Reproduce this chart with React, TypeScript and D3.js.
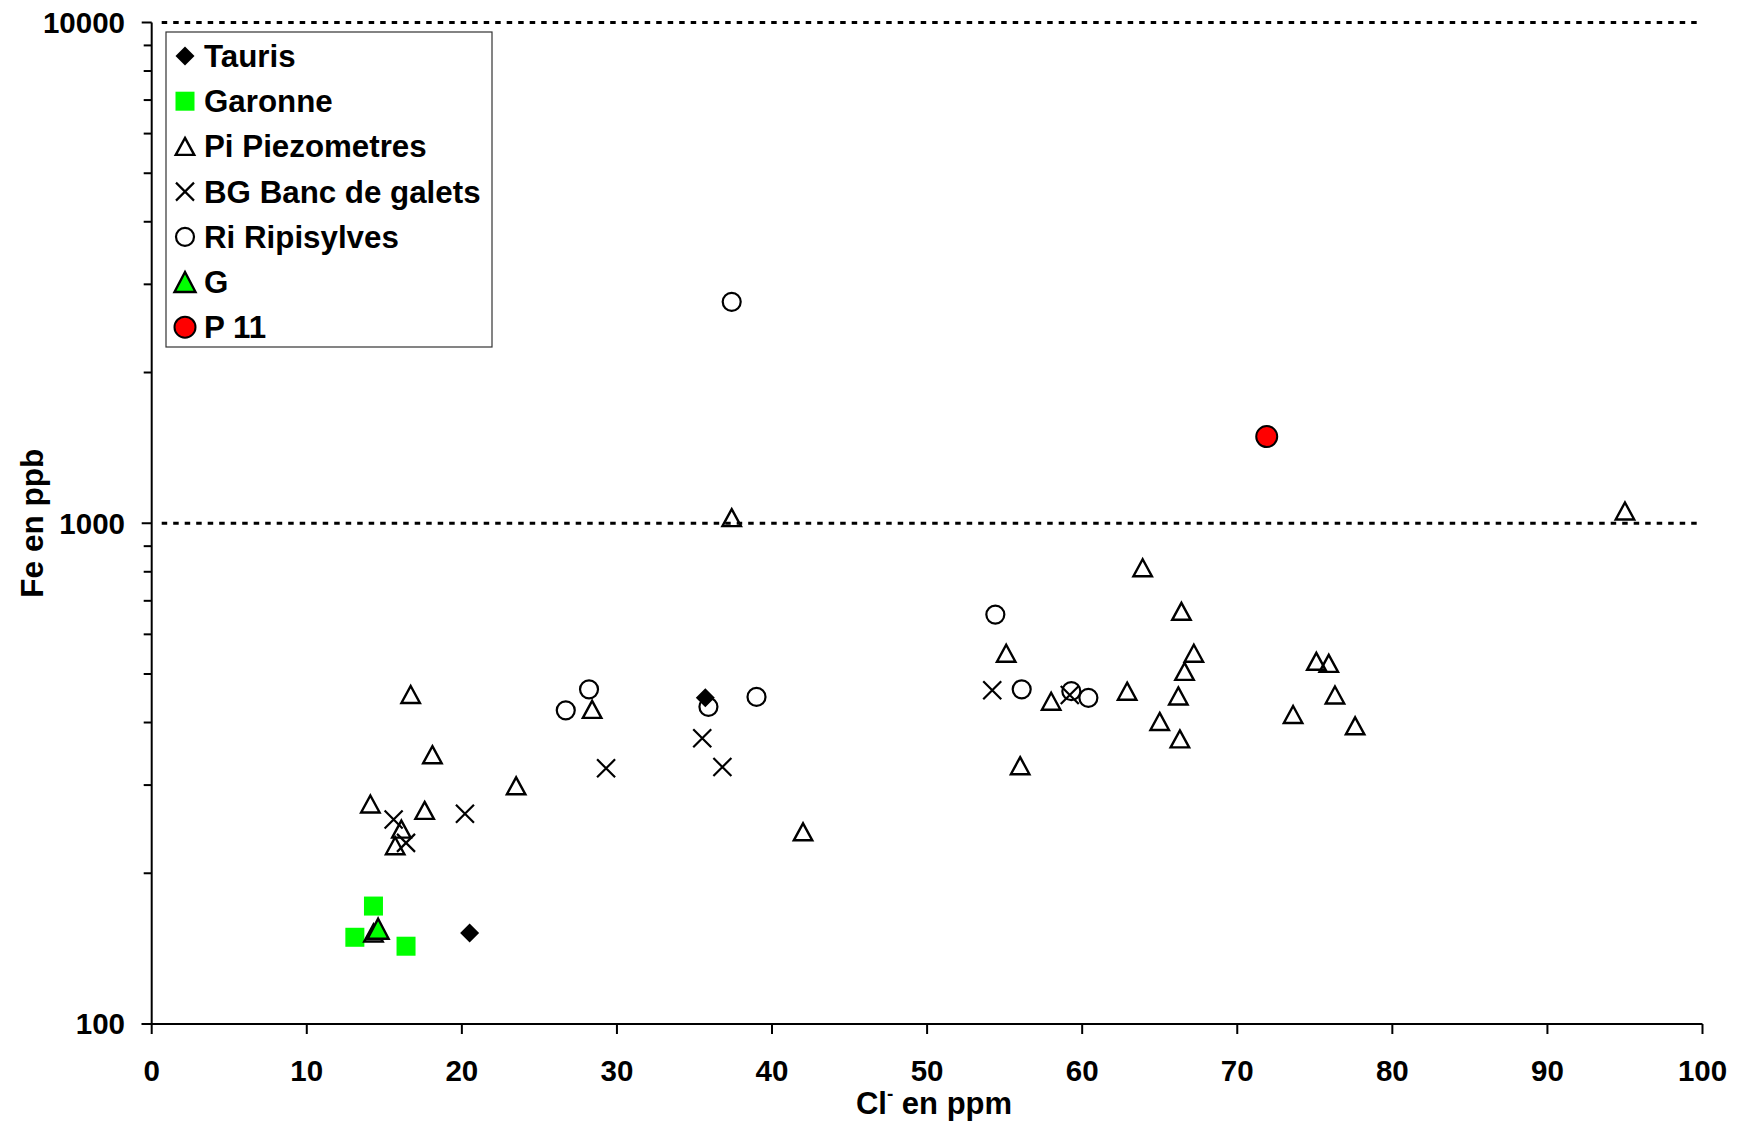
import React from "react";
import * as d3 from "d3";

// ---- Data (Cl- ppm, Fe ppb) ----
const taurisX = [35.7, 20.5];
const taurisY = [448, 152];

const garonneX = [14.3, 13.1, 16.4];
const garonneY = [172, 149, 143];

const piX = [37.4, 95.0, 63.9, 66.4, 55.1, 67.2, 66.6, 75.1, 75.9, 62.9, 66.2, 76.3, 58.0, 65.0, 73.6, 77.6, 66.3, 56.0, 28.4, 16.7, 18.1, 23.5, 14.1, 17.6, 42.0, 16.1, 15.7, 14.3];
const piY = [1026, 1058, 815, 667, 550, 550, 506, 530, 525, 462, 452, 454, 441, 402, 415, 394, 371, 328, 425, 455, 345, 299, 275, 267, 242, 245, 227, 152];

const bgX = [54.2, 59.2, 35.5, 29.3, 36.8, 20.2, 15.6, 16.4];
const bgY = [464, 454, 372, 324, 326, 263, 256, 230];

const riX = [37.4, 54.4, 56.1, 59.3, 60.4, 28.2, 26.7, 35.9, 39.0];
const riY = [2768, 657, 466, 462, 448, 466, 423, 430, 450];

const gX = [14.6];
const gY = [155];

const p11X = [71.9];
const p11Y = [1490];

const xTicks = [0, 10, 20, 30, 40, 50, 60, 70, 80, 90, 100];
const yMajor = [100, 1000, 10000];
const yMinor = [200, 300, 400, 500, 600, 700, 800, 900, 2000, 3000, 4000, 5000, 6000, 7000, 8000, 9000];
const refLines = [1000, 10000];

const legendLabels = ["Tauris", "Garonne", "Pi Piezometres", "BG Banc de galets", "Ri Ripisylves", "G", "P 11"];
const legendKinds = ["diamond", "square", "tri", "x", "circle", "gtri", "red"];

const FONT = "'Liberation Sans', Arial, Helvetica, sans-serif";

const x = d3.scaleLinear().domain([0, 100]).range([151.7, 1702.5]);
const y = d3.scaleLog().domain([100, 10000]).range([1024, 22.5]);

function Marker({ kind, cx, cy }: { kind: string; cx: number; cy: number }) {
  switch (kind) {
    case "diamond": {
      const r = 9.5;
      return <path d={`M${cx},${cy - r}L${cx + r},${cy}L${cx},${cy + r}L${cx - r},${cy}Z`} fill="#000" />;
    }
    case "square": {
      const s = 19;
      return <rect x={cx - s / 2} y={cy - s / 2} width={s} height={s} fill="#00ff00" />;
    }
    case "tri": {
      const w = 18.5, h = 17;
      return (
        <path
          d={`M${cx},${cy - h / 2}L${cx + w / 2},${cy + h / 2}L${cx - w / 2},${cy + h / 2}Z`}
          fill="none"
          stroke="#000"
          strokeWidth={2.4}
          strokeLinejoin="miter"
        />
      );
    }
    case "gtri": {
      const w = 21, h = 20;
      return (
        <path
          d={`M${cx},${cy - h / 2}L${cx + w / 2},${cy + h / 2}L${cx - w / 2},${cy + h / 2}Z`}
          fill="#00ff00"
          stroke="#000"
          strokeWidth={2.4}
        />
      );
    }
    case "x": {
      const r = 9;
      return (
        <path
          d={`M${cx - r},${cy - r}L${cx + r},${cy + r}M${cx - r},${cy + r}L${cx + r},${cy - r}`}
          stroke="#000"
          strokeWidth={2.2}
          fill="none"
        />
      );
    }
    case "circle":
      return <circle cx={cx} cy={cy} r={9} fill="none" stroke="#000" strokeWidth={2.2} />;
    case "red":
      return <circle cx={cx} cy={cy} r={10.5} fill="#ff0000" stroke="#000" strokeWidth={2} />;
    default:
      return null;
  }
}

const series = [
  { kind: "diamond", xs: taurisX, ys: taurisY },
  { kind: "square", xs: garonneX, ys: garonneY },
  { kind: "tri", xs: piX, ys: piY },
  { kind: "x", xs: bgX, ys: bgY },
  { kind: "circle", xs: riX, ys: riY },
  { kind: "gtri", xs: gX, ys: gY },
  { kind: "red", xs: p11X, ys: p11Y },
];

export default function App() {
  const x0 = x(0);
  const x1 = x(100);
  const yb = y(100);
  const yt = y(10000);
  return (
    <svg
      width={1745}
      height={1123}
      style={{ position: "absolute", left: 0, top: 0, background: "#fff" }}
      fontFamily={FONT}
    >
      <rect x={0} y={0} width={1745} height={1123} fill="#fff" />
      {/* reference dotted lines */}
      {refLines.map((v) => (
        <line
          key={v}
          x1={x0 + 10}
          x2={x1}
          y1={y(v)}
          y2={y(v)}
          stroke="#000"
          strokeWidth={2.8}
          strokeDasharray="5.5 6"
        />
      ))}
      {/* axes */}
      <line x1={x0} x2={x0} y1={yt} y2={yb} stroke="#000" strokeWidth={2} />
      <line x1={x0 - 10} x2={x1} y1={yb} y2={yb} stroke="#000" strokeWidth={2.2} />
      {yMajor.map((v) => (
        <g key={v}>
          <line x1={x0 - 10} x2={x0} y1={y(v)} y2={y(v)} stroke="#000" strokeWidth={2} />
          <text x={125} y={y(v) + 10.4} textAnchor="end" fontSize={29.5} fontWeight="bold">
            {v}
          </text>
        </g>
      ))}
      {yMinor.map((v) => (
        <line key={v} x1={x0 - 8} x2={x0} y1={y(v)} y2={y(v)} stroke="#000" strokeWidth={2} />
      ))}
      {xTicks.map((v) => (
        <g key={v}>
          <line x1={x(v)} x2={x(v)} y1={yb} y2={yb + 10} stroke="#000" strokeWidth={2} />
          <text x={x(v)} y={1081} textAnchor="middle" fontSize={29.5} fontWeight="bold">
            {v}
          </text>
        </g>
      ))}
      {/* axis titles */}
      <text x={934} y={1114} textAnchor="middle" fontSize={31} fontWeight="bold">
        Cl
        <tspan fontSize={19} dy={-14}>
          -
        </tspan>
        <tspan dy={14}> en ppm</tspan>
      </text>
      <text
        transform={`translate(43,${(yt + yb) / 2}) rotate(-90)`}
        textAnchor="middle"
        fontSize={31.5}
        fontWeight="bold"
      >
        Fe en ppb
      </text>
      {/* data */}
      {series.map((s, i) => (
        <g key={i}>
          {s.xs.map((xv, j) => (
            <Marker key={j} kind={s.kind} cx={x(xv)} cy={y(s.ys[j])} />
          ))}
        </g>
      ))}
      {/* legend */}
      <rect x={166} y={32} width={326} height={315} fill="#fff" stroke="#333" strokeWidth={1.2} />
      {legendLabels.map((lab, i) => {
        const cy = 56 + i * 45.2;
        return (
          <g key={lab}>
            <Marker kind={legendKinds[i]} cx={185} cy={cy} />
            <text x={204} y={cy + 11} fontSize={31.3} fontWeight="bold">
              {lab}
            </text>
          </g>
        );
      })}
    </svg>
  );
}
